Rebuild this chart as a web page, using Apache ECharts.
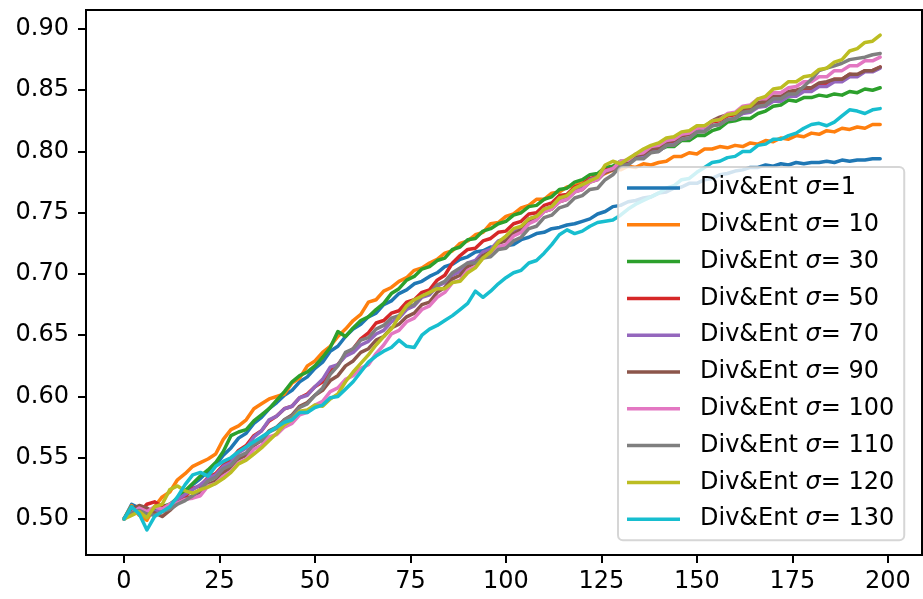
<!DOCTYPE html>
<html>
<head>
<meta charset="utf-8">
<script src="https://cdn.jsdelivr.net/npm/echarts@6.0.0/dist/echarts.min.js"></script>
<style>html,body{margin:0;padding:0;background:#fff}#c{width:923px;height:599px}</style>
</head>
<body>
<div id="c"></div>
<script>
const xValues = [0,2,4,6,8,10,12,14,16,18,20,22,24,26,28,30,32,34,36,38,40,42,44,46,48,50,52,54,56,58,60,62,64,66,68,70,72,74,76,78,80,82,84,86,88,90,92,94,96,98,100,102,104,106,108,110,112,114,116,118,120,122,124,126,128,130,132,134,136,138,140,142,144,146,148,150,152,154,156,158,160,162,164,166,168,170,172,174,176,178,180,182,184,186,188,190,192,194,196,198];
const seriesNames = ['Div&Ent σ=1','Div&Ent σ= 10','Div&Ent σ= 30','Div&Ent σ= 50','Div&Ent σ= 70','Div&Ent σ= 90','Div&Ent σ= 100','Div&Ent σ= 110','Div&Ent σ= 120','Div&Ent σ= 130'];
const xTicks = [0,25,50,75,100,125,150,175,200];
const yTicks = [0.50,0.55,0.60,0.65,0.70,0.75,0.80,0.85,0.90];

const sigma1 = [.500,.512,.509,.503,.506,.507,.510,.515,.521,.528,
.533,.539,.544,.552,.558,.566,.570,.578,.583,.590,
.595,.601,.605,.612,.616,.623,.628,.637,.641,.649,
.655,.659,.665,.668,.675,.678,.684,.687,.692,.694,
.698,.701,.706,.708,.712,.714,.718,.719,.722,.721,
.723,.724,.728,.730,.733,.734,.737,.738,.740,.741,
.743,.745,.749,.751,.755,.756,.759,.760,.762,.763,
.766,.767,.770,.771,.774,.774,.777,.778,.781,.782,
.784,.785,.787,.787,.789,.788,.790,.789,.791,.790,
.791,.791,.792,.791,.793,.792,.793,.793,.794,.794];
const sigma10 = [.500,.511,.503,.499,.510,.518,.522,.532,.537,.543,
.546,.549,.553,.565,.573,.576,.581,.590,.594,.598,
.600,.602,.611,.615,.625,.629,.636,.641,.649,.655,
.662,.667,.677,.679,.686,.689,.694,.697,.703,.705,
.709,.712,.717,.719,.725,.727,.732,.734,.741,.742,
.747,.749,.754,.756,.761,.761,.766,.767,.771,.772,
.775,.777,.781,.782,.785,.785,.788,.787,.790,.789,
.791,.792,.796,.796,.799,.798,.802,.802,.804,.803,
.805,.804,.807,.806,.809,.808,.811,.810,.813,.812,
.815,.814,.817,.816,.819,.818,.820,.819,.822,.822];
const sigma30 = [.500,.510,.506,.502,.508,.510,.512,.517,.523,.529,
.535,.540,.546,.555,.568,.571,.573,.580,.585,.590,
.597,.604,.612,.617,.620,.625,.632,.640,.653,.649,
.656,.662,.665,.671,.676,.684,.688,.695,.698,.704,
.706,.711,.713,.720,.722,.728,.729,.735,.737,.741,
.743,.748,.750,.755,.756,.761,.763,.769,.770,.775,
.777,.781,.782,.787,.788,.792,.792,.797,.797,.800,
.801,.804,.804,.809,.809,.813,.813,.817,.819,.824,
.825,.827,.827,.831,.833,.837,.838,.842,.841,.844,
.844,.846,.845,.847,.846,.849,.848,.851,.850,.852];
const sigma50 = [.500,.508,.505,.512,.514,.510,.511,.516,.518,.525,
.527,.534,.537,.544,.548,.556,.560,.568,.572,.580,
.584,.590,.592,.599,.602,.608,.612,.621,.626,.634,
.639,.647,.652,.660,.662,.668,.670,.677,.679,.685,
.687,.695,.699,.709,.715,.720,.721,.727,.729,.734,
.735,.741,.743,.749,.750,.756,.758,.764,.765,.771,
.773,.778,.779,.785,.786,.791,.791,.796,.797,.801,
.802,.807,.808,.813,.814,.819,.820,.824,.825,.829,
.830,.834,.834,.839,.839,.843,.843,.847,.847,.851,
.851,.855,.855,.859,.859,.863,.862,.866,.866,.869];
const sigma70 = [.500,.506,.504,.508,.506,.508,.512,.516,.520,.524,
.528,.533,.536,.543,.546,.554,.558,.567,.572,.581,
.584,.590,.592,.599,.601,.608,.614,.624,.626,.633,
.636,.642,.645,.651,.654,.661,.664,.671,.674,.681,
.683,.690,.693,.699,.702,.709,.711,.718,.720,.727,
.729,.736,.738,.745,.747,.753,.755,.761,.763,.769,
.771,.777,.779,.784,.786,.791,.791,.795,.796,.800,
.800,.805,.806,.810,.811,.816,.817,.821,.822,.826,
.827,.831,.832,.836,.837,.841,.841,.845,.845,.849,
.849,.853,.853,.857,.857,.861,.861,.865,.865,.868];
const sigma90 = [.500,.508,.511,.509,.505,.502,.507,.513,.516,.519,
.522,.528,.531,.538,.542,.549,.552,.560,.564,.572,
.575,.581,.585,.592,.595,.601,.605,.613,.617,.625,
.629,.636,.639,.646,.649,.656,.659,.665,.668,.675,
.677,.685,.689,.696,.699,.706,.709,.715,.718,.725,
.727,.733,.736,.742,.745,.751,.753,.759,.761,.767,
.769,.775,.777,.783,.785,.791,.792,.797,.798,.802,
.803,.808,.809,.813,.814,.819,.820,.825,.828,.830,
.831,.835,.836,.840,.841,.845,.845,.849,.850,.852,
.852,.856,.857,.859,.859,.863,.863,.866,.866,.869];
const sigma100 = [.500,.505,.509,.506,.510,.508,.512,.513,.516,.517,
.519,.527,.529,.535,.539,.546,.549,.557,.560,.567,
.569,.575,.578,.585,.587,.593,.596,.604,.607,.614,
.617,.623,.626,.635,.642,.651,.654,.661,.664,.671,
.674,.681,.685,.693,.695,.703,.706,.713,.716,.722,
.724,.731,.734,.741,.744,.751,.753,.759,.761,.767,
.769,.775,.777,.784,.786,.792,.793,.798,.799,.804,
.805,.809,.810,.814,.815,.819,.820,.825,.826,.831,
.832,.837,.838,.843,.843,.848,.848,.852,.853,.857,
.857,.861,.861,.866,.866,.870,.870,.874,.874,.877];
const sigma110 = [.500,.505,.507,.504,.503,.506,.508,.512,.515,.519,
.524,.531,.534,.541,.544,.551,.554,.561,.564,.571,
.574,.581,.584,.591,.594,.601,.607,.618,.625,.636,
.639,.646,.648,.655,.658,.664,.666,.673,.675,.682,
.684,.691,.694,.701,.705,.709,.709,.713,.714,.720,
.721,.727,.730,.737,.739,.746,.748,.754,.756,.762,
.764,.769,.770,.777,.781,.788,.789,.794,.794,.799,
.800,.805,.805,.810,.811,.816,.816,.821,.822,.826,
.827,.832,.833,.837,.838,.843,.843,.847,.847,.853,
.859,.866,.868,.870,.872,.875,.876,.877,.879,.880];
const sigma120 = [.500,.503,.506,.501,.510,.512,.524,.527,.523,.521,
.524,.526,.529,.533,.538,.545,.548,.553,.558,.564,
.570,.577,.581,.588,.589,.593,.592,.598,.602,.612,
.620,.627,.634,.642,.649,.655,.665,.674,.679,.682,
.685,.688,.688,.693,.694,.701,.705,.713,.718,.726,
.731,.737,.739,.745,.747,.753,.755,.762,.764,.770,
.773,.776,.779,.789,.792,.790,.794,.798,.802,.805,
.807,.811,.812,.816,.817,.821,.821,.825,.826,.830,
.831,.836,.837,.843,.845,.851,.852,.857,.857,.861,
.862,.867,.868,.873,.875,.882,.884,.889,.890,.895];
const sigma130 = [.500,.510,.504,.491,.502,.506,.510,.518,.528,.536,
.538,.535,.543,.547,.550,.555,.559,.563,.567,.571,
.575,.579,.581,.587,.587,.591,.593,.599,.600,.606,
.612,.620,.628,.633,.637,.640,.646,.641,.640,.650,
.655,.658,.662,.666,.671,.676,.686,.681,.686,.692,
.697,.701,.703,.709,.711,.717,.724,.732,.736,.733,
.735,.739,.742,.743,.744,.748,.753,.757,.760,.763,
.766,.770,.772,.777,.778,.783,.787,.791,.792,.795,
.796,.800,.800,.805,.806,.810,.810,.813,.815,.819,
.822,.823,.821,.824,.829,.834,.833,.831,.834,.835];

const allValues = [sigma1,sigma10,sigma30,sigma50,sigma70,sigma90,sigma100,sigma110,sigma120,sigma130];
const colors = ['#1f77b4','#ff7f0e','#2ca02c','#d62728','#9467bd','#8c564b','#e377c2','#7f7f7f','#bcbd22','#17becf'];
const FONT = 'DejaVu Sans';
const FS = 24;

const chart = echarts.init(document.getElementById('c'), null, {renderer:'canvas'});
const series = allValues.map((vals, i) => ({
  name: seriesNames[i],
  type: 'line',
  showSymbol: false,
  symbol: 'none',
  color: colors[i],
  lineStyle: {width: 3.5, color: colors[i], join: 'round', cap: 'round'},
  data: vals.map((v, k) => [xValues[k], v]),
  animation: false
}));

chart.setOption({
  animation: false,
  grid: {left: 86, right: 1, top: 10, bottom: 44, show: true, borderColor: '#000', borderWidth: 2, backgroundColor: 'transparent'},
  xAxis: {
    type: 'value', min: -9.95, max: 208.95,
    axisLine: {show: true, onZero: false, lineStyle: {color: '#000', width: 2}},
    axisTick: {show: true, length: 8, customValues: xTicks, lineStyle: {color: '#000', width: 2}},
    axisLabel: {customValues: xTicks, fontSize: FS, fontFamily: FONT, color: '#000', margin: 15},
    splitLine: {show: false}
  },
  yAxis: {
    type: 'value', min: 0.4706, max: 0.9155,
    axisLine: {show: true, onZero: false, lineStyle: {color: '#000', width: 2}},
    axisTick: {show: true, length: 8, customValues: yTicks, lineStyle: {color: '#000', width: 2}},
    axisLabel: {customValues: yTicks, fontSize: FS, fontFamily: FONT, color: '#000', margin: 17, formatter: v => v.toFixed(2)},
    splitLine: {show: false}
  },
  legend: {
    orient: 'vertical', left: 618, top: 167,
    padding: [7, 10, 7, 9], itemGap: 8.8, itemWidth: 53, itemHeight: 3.5,
    icon: 'rect', selectedMode: false,
    backgroundColor: 'rgba(255,255,255,0.8)', borderColor: 'rgba(204,204,204,0.8)', borderWidth: 2, borderRadius: 5,
    textStyle: {fontSize: FS, fontFamily: FONT, color: '#000', lineHeight: 28, padding: [0, 0, 0, 15],
      rich: {s: {fontStyle: 'italic', fontSize: FS, fontFamily: FONT, color: '#000', lineHeight: 28}}},
    formatter: n => n.replace('σ', '{s|σ}'),
    data: seriesNames
  },
  series: series
});
</script>
</body>
</html>
